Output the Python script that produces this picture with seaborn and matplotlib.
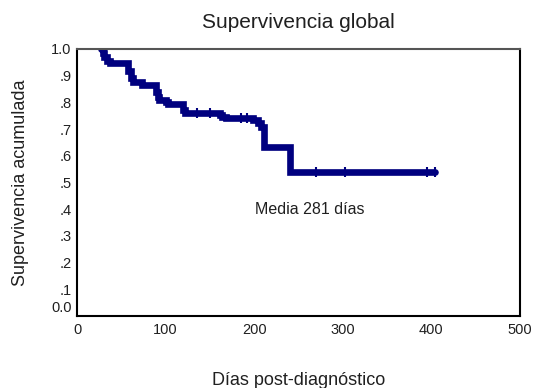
import matplotlib
matplotlib.use("Agg")
import matplotlib.pyplot as plt
import seaborn as sns
import pandas as pd
from matplotlib.transforms import ScaledTranslation

# Kaplan-Meier step curve: event times (days) and cumulative survival after each step
times = [27, 29, 31, 34, 37, 58, 61, 63, 73, 89, 91, 93, 101, 103, 120, 122,
         161, 164, 168, 199, 204, 208, 211, 240, 404]
survival = [1.0, 0.985, 0.97, 0.955, 0.946, 0.918, 0.89, 0.877, 0.865, 0.84,
            0.822, 0.81, 0.80, 0.794, 0.772, 0.759, 0.752, 0.746, 0.740, 0.733,
            0.722, 0.709, 0.634, 0.540, 0.540]

# Censored observations
censor_times = [135, 150, 185, 192, 270, 302, 395, 404]
censor_surv = [0.759, 0.759, 0.740, 0.740, 0.540, 0.540, 0.540, 0.540]

x_ticks = [0, 100, 200, 300, 400, 500]
y_ticks = [0.0, 0.1, 0.2, 0.3, 0.4, 0.5, 0.6, 0.7, 0.8, 0.9, 1.0]
y_tick_labels = ["0.0", ".1", ".2", ".3", ".4", ".5", ".6", ".7", ".8", ".9", "1.0"]

title = "Supervivencia global"
x_label = "Días post-diagnóstico"
y_label = "Supervivencia acumulada"
note = "Media 281 días"

curve = pd.DataFrame({"dias": times, "supervivencia": survival})
censored = pd.DataFrame({"dias": censor_times, "supervivencia": censor_surv})

sns.set_style("white")
plt.rcParams["font.family"] = ["Liberation Sans", "DejaVu Sans"]

fig = plt.figure(figsize=(5.36, 3.88), dpi=100)
ax = fig.add_axes([77 / 536, 1 - 316 / 388, (520 - 77) / 536, (316 - 49) / 388])

navy = "#00007f"
sns.lineplot(data=curve, x="dias", y="supervivencia", ax=ax, color=navy,
             linewidth=4.8, drawstyle="steps-post", estimator=None,
             solid_joinstyle="miter")
sns.scatterplot(data=censored, x="dias", y="supervivencia", ax=ax, color=navy,
                marker="|", s=60, linewidth=1.5)

ax.set_xlim(0, 500)
ax.set_ylim(0, 1.0)
ax.set_xticks(x_ticks)
ax.set_yticks(y_ticks)
ax.set_yticklabels(y_tick_labels)
ax.tick_params(axis="both", direction="out", length=3, width=1.5, color="black",
               labelsize=10.5, labelcolor="#202020", pad=2)
ax.tick_params(axis="y", pad=1)

# lift the bottom y label so it clears the x-axis labels
for lbl in ax.get_yticklabels():
    if lbl.get_text() == "0.0":
        lbl.set_transform(lbl.get_transform() + ScaledTranslation(0, 7 / 72, fig.dpi_scale_trans))

ax.set_xlabel(x_label, fontsize=13, color="#202020", labelpad=25)
ax.set_ylabel(y_label, fontsize=13, color="#202020", labelpad=16)
ax.set_title(title, fontsize=15, color="#202020", pad=15)

for side in ["left", "bottom", "right"]:
    ax.spines[side].set_color("black")
    ax.spines[side].set_linewidth(1.5)
ax.spines["top"].set_color("#555555")
ax.spines["top"].set_linewidth(1.5)

ax.text(263, 0.40, note, fontsize=11.5, color="#202020", ha="center", va="center")

fig.savefig("out.png", dpi=100)
